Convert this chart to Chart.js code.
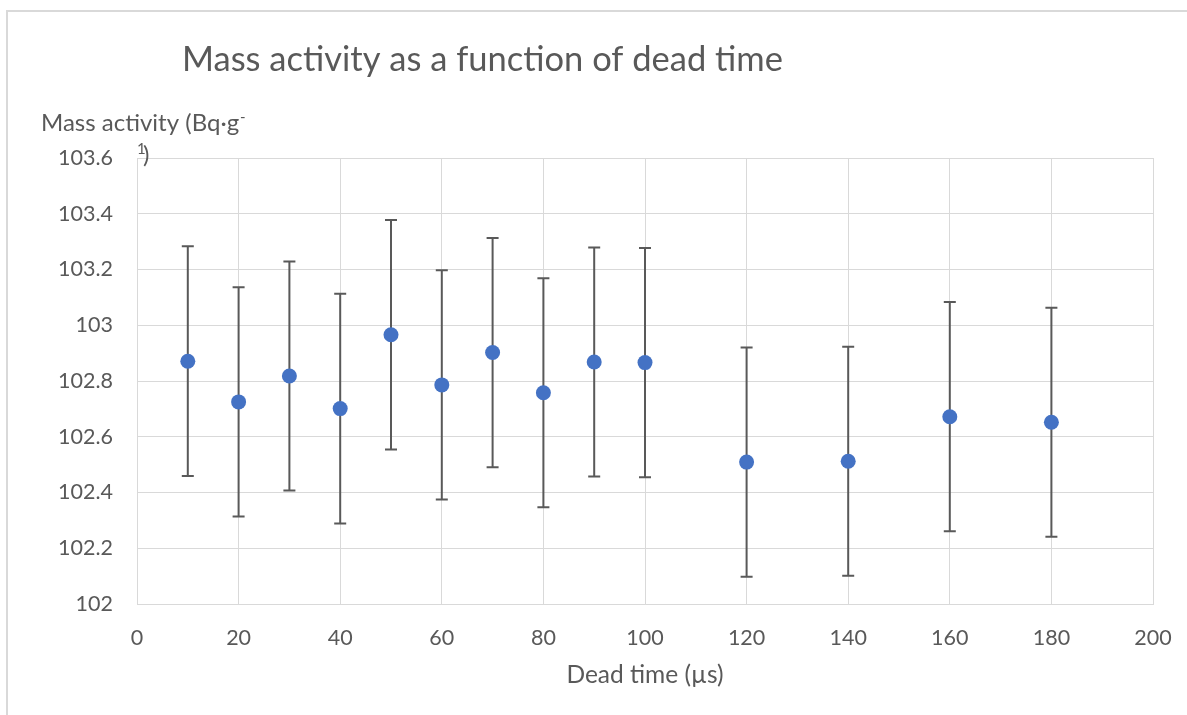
<!DOCTYPE html>
<html>
<head>
<meta charset="utf-8">
<script src="https://cdn.jsdelivr.net/npm/chart.js@4.4.0/dist/chart.umd.min.js"></script>
<style>
    html, body { margin: 0; padding: 0; background: #ffffff; }
    #wrap { width: 1187px; height: 715px; }
</style>
</head>
<body>
<div id="wrap"><canvas id="myChart" width="1187" height="715"></canvas></div>
<script>
// dead time (µs)
const deadTimes = [10, 20, 30, 40, 50, 60, 70, 80, 90, 100, 120, 140, 160, 180];
// mass activity (Bq·g-1)
const massActivity = [102.871, 102.725, 102.818, 102.701, 102.966, 102.786, 102.902,
    102.758, 102.868, 102.866, 102.509, 102.512, 102.672, 102.652];
// +/- uncertainty
const errors = [0.412, 0.411, 0.411, 0.412, 0.412, 0.411, 0.411,
    0.411, 0.411, 0.411, 0.411, 0.411, 0.411, 0.411];

const textColor = '#595959';
const fontName = 'Lato, "Open Sans", sans-serif';

// vertical error bars with caps
const errorBars = {
    id: 'errorBars',
    beforeDatasetsDraw(chart) {
        const ctx = chart.ctx;
        const xs = chart.scales.x;
        const ys = chart.scales.y;
        ctx.save();
        ctx.strokeStyle = '#595959';
        ctx.lineWidth = 2;
        for (let i = 0; i < deadTimes.length; i++) {
            const x = xs.getPixelForValue(deadTimes[i]);
            const top = ys.getPixelForValue(massActivity[i] + errors[i]);
            const bot = ys.getPixelForValue(massActivity[i] - errors[i]);
            ctx.beginPath();
            ctx.moveTo(x, top);
            ctx.lineTo(x, bot);
            ctx.moveTo(x - 6, top);
            ctx.lineTo(x + 6, top);
            ctx.moveTo(x - 6, bot);
            ctx.lineTo(x + 6, bot);
            ctx.stroke();
        }
        ctx.restore();
    }
};

// frame, title and the y axis caption
const decorations = {
    id: 'decorations',
    afterDraw(chart) {
        const ctx = chart.ctx;
        ctx.save();
        ctx.strokeStyle = '#d9d9d9';
        ctx.lineWidth = 2;
        ctx.strokeRect(7, 11, 1200, 720);

        ctx.fillStyle = textColor;
        ctx.textAlign = 'left';
        ctx.textBaseline = 'alphabetic';
        ctx.font = '34.5px ' + fontName;
        ctx.fillText('Mass activity as a function of dead time', 182, 71);

        ctx.font = '24px ' + fontName;
        ctx.fillText('Mass activity (Bq·g', 41, 131);
        const w = ctx.measureText('Mass activity (Bq·g').width;
        ctx.font = '15px ' + fontName;
        ctx.fillText('-', 41 + w + 1, 122);
        ctx.fillText('1', 137, 154);
        ctx.font = '24px ' + fontName;
        ctx.fillText(')', 143, 163);
        ctx.restore();
    }
};

const ctx = document.getElementById('myChart').getContext('2d');
const myChart = new Chart(ctx, {
    type: 'scatter',
    data: {
        datasets: [{
            label: 'Mass activity',
            data: deadTimes.map((t, i) => ({ x: t, y: massActivity[i] })),
            backgroundColor: '#4472C4',
            borderWidth: 0,
            pointRadius: 7.5,
            pointHoverRadius: 7.5
        }]
    },
    options: {
        responsive: false,
        animation: false,
        layout: {
            padding: { top: 158, right: 34, bottom: 0, left: 0 }
        },
        plugins: {
            legend: { display: false },
            tooltip: { enabled: false }
        },
        scales: {
            x: {
                type: 'linear',
                min: 0,
                max: 200,
                ticks: {
                    stepSize: 20,
                    color: textColor,
                    padding: 21,
                    maxRotation: 0,
                    font: { family: fontName, size: 21.5 }
                },
                grid: { color: '#d9d9d9', drawTicks: false },
                border: { color: '#d9d9d9' },
                title: {
                    display: true,
                    text: 'Dead time (µs)',
                    color: textColor,
                    font: { family: fontName, size: 24.5 },
                    padding: { top: 10, bottom: 25 }
                },
                afterFit(scale) {
                    scale.height = 111;
                    scale.paddingRight = 0;
                }
            },
            y: {
                min: 102,
                max: 103.6,
                ticks: {
                    stepSize: 0.2,
                    color: textColor,
                    padding: 24,
                    font: { family: fontName, size: 21.5 },
                    callback: v => String(Number(v.toFixed(1)))
                },
                grid: { color: '#d9d9d9', drawTicks: false },
                border: { color: '#d9d9d9' },
                afterFit(scale) { scale.width = 137; }
            }
        }
    },
    plugins: [errorBars, decorations]
});
</script>
</body>
</html>
